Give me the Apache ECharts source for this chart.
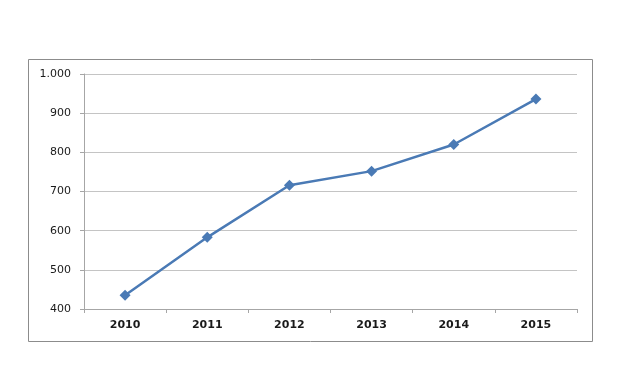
<!DOCTYPE html>
<html><head><meta charset="utf-8">
<script src="https://cdn.jsdelivr.net/npm/echarts@6/dist/echarts.min.js"></script>
<style>html,body{margin:0;padding:0;background:#fff}#c{width:620px;height:390px}</style>
</head><body><div id="c"></div>
<script>
const years = ['2010','2011','2012','2013','2014','2015'];
const values = [435, 583, 716, 752, 820, 936];
const yMin = 400, yMax = 1000, yStep = 100;

const chart = echarts.init(document.getElementById('c'), null, {renderer:'canvas'});
chart.setOption({
  animation:false,
  backgroundColor:'#fff',
  graphic:[{type:'rect', shape:{x:28.5,y:59.5,width:564,height:282}, style:{fill:'none',stroke:'#8c8c8c',lineWidth:1}}],
  grid:{left:84, right:43, top:74, bottom:81, containLabel:false},
  xAxis:{type:'category', data:years, boundaryGap:true,
    axisLine:{lineStyle:{color:'#a6a6a6'}},
    axisTick:{show:true, length:4, lineStyle:{color:'#a6a6a6'}},
    axisLabel:{color:'#1a1a1a', fontWeight:'bold', fontSize:11, fontFamily:'DejaVu Sans', margin:11}},
  yAxis:{type:'value', min:yMin, max:yMax, interval:yStep,
    axisLine:{show:true, lineStyle:{color:'#a6a6a6'}},
    axisTick:{show:true, length:4, lineStyle:{color:'#a6a6a6'}},
    splitLine:{lineStyle:{color:'#c4c4c4'}},
    axisLabel:{color:'#1a1a1a', fontSize:11, fontFamily:'DejaVu Sans', margin:13,
      formatter:v => v>=1000 ? Math.floor(v/1000)+'.'+String(v%1000).padStart(3,'0') : String(v)}},
  series:[{type:'line', data:values, symbol:'diamond', symbolSize:11,
    lineStyle:{color:'#4a7ab5', width:2.5}, itemStyle:{color:'#4a7ab5'}}]
});
</script></body></html>
